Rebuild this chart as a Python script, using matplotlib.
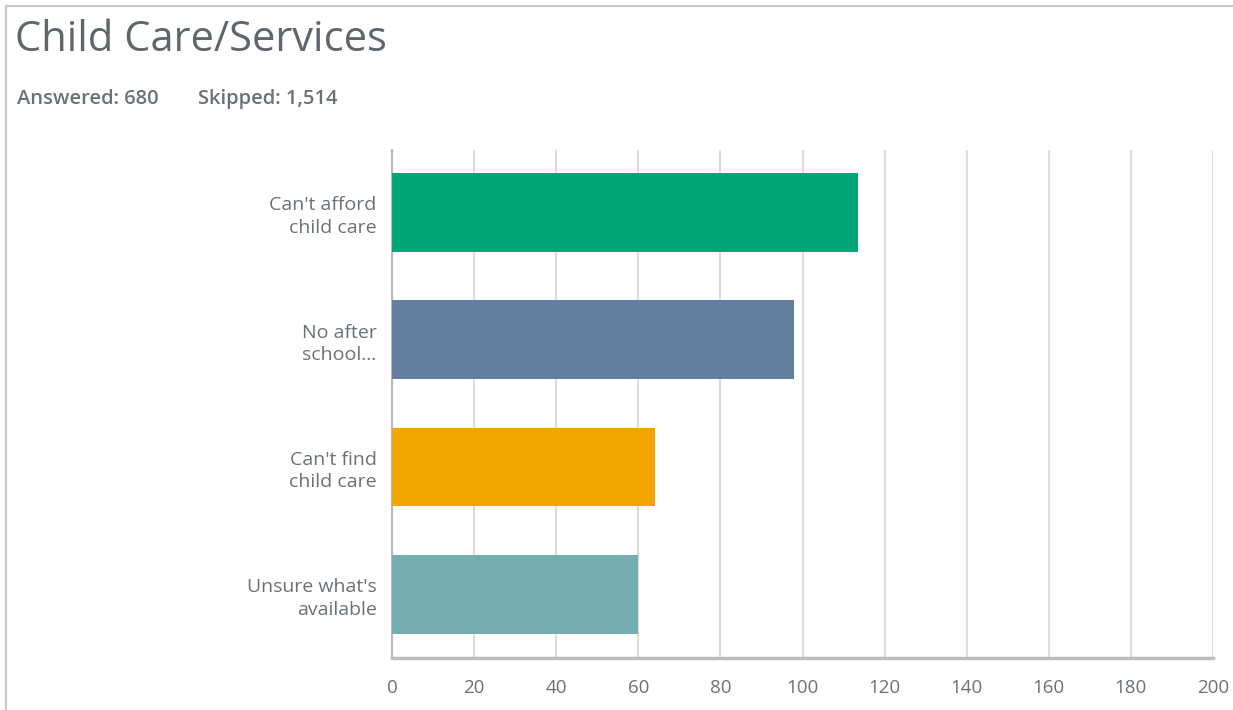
import matplotlib
matplotlib.use("Agg")
import matplotlib.pyplot as plt
from matplotlib.lines import Line2D

categories = ["Can't afford\nchild care", "No after\nschool...", "Can't find\nchild care", "Unsure what's\navailable"]
values = [113.5, 98, 64, 60]
colors = ["#00a677", "#637e9e", "#f0a500", "#76adb1"]
xticks = [0, 20, 40, 60, 80, 100, 120, 140, 160, 180, 200]

title = "Child Care/Services"
answered = "Answered: 680"
skipped = "Skipped: 1,514"

txt = "#6b7176"
plt.rcParams['font.family'] = ['Open Sans', 'DejaVu Sans']

fig = plt.figure(figsize=(12.33, 7.10), dpi=100)
ax = fig.add_axes([392/1233, 1-658/710, (1213-392)/1233, (658-150)/710])

ypos = list(range(len(categories)))
ax.barh(ypos, values, height=0.62, color=colors, zorder=3)
ax.set_ylim(3.5, -0.49)
ax.set_xlim(0, 200)
ax.set_xticks(xticks)
ax.set_xticklabels([str(t) for t in xticks])
ax.set_yticks(ypos)
ax.set_yticklabels(categories, ha='right', linespacing=1.3)
ax.tick_params(axis='y', length=0, pad=11, labelsize=14, labelcolor=txt)
ax.tick_params(axis='x', length=0, pad=15, labelsize=13.5, labelcolor=txt)
ax.grid(axis='x', color='#dcdcdc', linewidth=1.5, zorder=0)
for s in ['top', 'right']:
    ax.spines[s].set_visible(False)
ax.spines['left'].set_color('#b8b8b8')
ax.spines['left'].set_linewidth(1.5)
ax.spines['bottom'].set_color('#bdbdbd')
ax.spines['bottom'].set_linewidth(2.5)

fig.text(15/1233, 1-40/710, title, fontsize=30, color='#5f666c', va='center', ha='left', fontweight='normal')
fig.text(17/1233, 1-99/710, answered, fontsize=14.5, color=txt, va='center', ha='left', fontweight='semibold')
fig.text(198/1233, 1-99/710, skipped, fontsize=14.5, color=txt, va='center', ha='left', fontweight='semibold')

fig.add_artist(Line2D([6/1233, 1], [1-6/710, 1-6/710], color='#c8c8c8', linewidth=1.5, transform=fig.transFigure))
fig.add_artist(Line2D([6/1233, 6/1233], [0, 1-6/710], color='#c8c8c8', linewidth=1.5, transform=fig.transFigure))

fig.savefig("out.png", dpi=100, facecolor='white')
